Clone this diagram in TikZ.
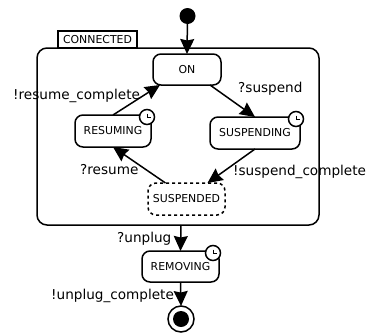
\documentclass[tikz,border=0pt]{standalone}
\usepackage{fontspec}
\setmainfont{DejaVu Sans}
\usetikzlibrary{arrows.meta}
\tikzset {>={Stealth[length=15pt,width=14pt,inset=1.5pt]}}
\tikzset{
  state/.style={draw,line width=1.5pt,rounded corners=8pt,inner sep=0pt,outer sep=0pt,font=\fontsize{10.9}{10.9}\selectfont},
  clock/.style={draw,fill=white,circle,line width=1.5pt,minimum size=15pt,inner sep=0pt,outer sep=0pt,
    path picture={\draw[line width=0.8pt] ([yshift=3.5pt]path picture bounding box.center) -- ++(0,-4pt) -- ++(4pt,0);}},
  trans/.style={font=\fontsize{13.6}{13.6}\selectfont,inner sep=0pt},
  flow/.style={->,line width=1.5pt}
}

\begin{document}
\begin{tikzpicture}[x=1pt,y=-1pt]
\useasboundingbox (0,0) rectangle (366,335);

% Composite state and its tab
\node[state,rounded corners=10pt,minimum width=282pt,minimum height=177pt] (connected) at (178,136.5) {};
\node[draw,line width=1.5pt,outer sep=0pt,inner sep=0pt,minimum width=79pt,minimum height=17pt,font=\fontsize{10.9}{10.9}\selectfont] (tab) at (97.5,39.5) {CONNECTED};

% Place states
\node[state,minimum width=68pt,minimum height=31pt] (on) at (187,69.5) {ON};
\node[state,minimum width=76pt,minimum height=32pt] (resuming) at (113,131) {RESUMING};
\node[state,minimum width=90pt,minimum height=32pt] (suspending) at (255,133) {SUSPENDING};
\node[state,dashed,minimum width=77pt,minimum height=32pt] (suspended) at (186.5,199) {SUSPENDED};
\node[state,minimum width=77pt,minimum height=31pt] (removing) at (180.5,266.5) {REMOVING};

% Clocks on the timed states
\node[clock] (resuming-clock) at (147,117) {};
\node[clock] (suspending-clock) at (296,119) {};
\node[clock] (removing-clock) at (213,253) {};

% Initial and final states
\node[circle,fill,minimum size=16pt,inner sep=0pt,outer sep=0pt] (init) at (187.5,16) {};
\node[circle,draw,line width=1.5pt,minimum size=26pt,inner sep=0pt,outer sep=0pt] (final) at (181,319) {};
\node[circle,fill,minimum size=16pt,inner sep=0pt] (final-dot) at (final) {};

% Draw transitions
\draw[flow] (init) -- (on.north);
\draw[flow] ([xshift=-11pt]on.south east) -- (suspending.north);
\draw[flow] (suspending.south) -- ([xshift=21pt]suspended.north);
\draw[flow] ([xshift=-21pt]suspended.north) -- (resuming.south);
\draw[flow] (resuming.north) -- ([xshift=7pt]on.south west);
\draw[flow] ([xshift=3pt]connected.south) -- (removing.north);
\draw[flow] (removing.south) -- (final.north);

% Transition labels
\node[trans,anchor=west] (l-resume-complete) at (13,96) {!resume\_complete};
\node[trans,anchor=west] (l-suspend) at (238,89) {?suspend};
\node[trans,anchor=west] (l-resume) at (80,170) {?resume};
\node[trans,anchor=west] (l-suspend-complete) at (233,172) {!suspend\_complete};
\node[trans,anchor=west] (l-unplug) at (117,239) {?unplug};
\node[trans,anchor=west] (l-unplug-complete) at (51,296) {!unplug\_complete};
\end{tikzpicture}
\end{document}
